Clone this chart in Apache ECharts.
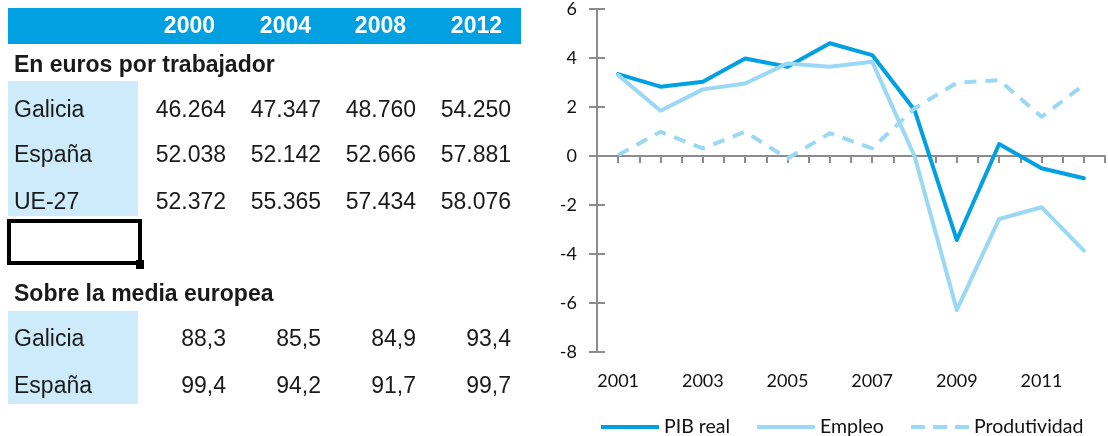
<!DOCTYPE html>
<html><head><meta charset="utf-8">
<script src="https://cdn.jsdelivr.net/npm/echarts@6/dist/echarts.min.js"></script>
<style>html,body{margin:0;padding:0;background:#fff}#c{width:1108px;height:436px}</style>
</head><body><div id="c"></div>
<script>
// ---- Chart data ----
const years = [2001,2002,2003,2004,2005,2006,2007,2008,2009,2010,2011,2012];
const pibReal = [3.34,2.83,3.03,3.98,3.64,4.60,4.12,1.88,-3.43,0.49,-0.50,-0.91];
const empleo = [3.30,1.85,2.72,2.96,3.78,3.64,3.85,0.00,-6.28,-2.57,-2.09,-3.86];
const produtividad = [0.04,0.99,0.31,0.99,-0.10,0.93,0.31,1.94,2.99,3.10,1.60,2.90];
const seriesNames = ['PIB real','Empleo','Produtividad'];
const xTickLabels = ['2001','2003','2005','2007','2009','2011'];

// ---- Table data ----
const tableYears = ['2000','2004','2008','2012'];
const sectionTitles = ['En euros por trabajador','Sobre la media europea'];
const eurosRows = ['Galicia','España','UE-27'];
const eurosValues = [
  ['46.264','47.347','48.760','54.250'],
  ['52.038','52.142','52.666','57.881'],
  ['52.372','55.365','57.434','58.076']
];
const mediaRows = ['Galicia','España'];
const mediaValues = [
  ['88,3','85,5','84,9','93,4'],
  ['99,4','94,2','91,7','99,7']
];

// ---- Layout / style ----
const BLUE = '#00A0E1', LIGHT = '#9AD8F4', CELL = '#CDEBFA', TXT = '#1a1a1a';
const tFont = '"Liberation Sans", Arial, sans-serif';
const cFont = 'Lato, "Open Sans", sans-serif';
const colRight = [226, 321, 416, 511];
const headRight = [215, 311, 406, 502];

const g = [];
g.push({type:'rect', shape:{x:8,y:8,width:513,height:36}, style:{fill:BLUE}, silent:true});
tableYears.forEach((t,i)=>g.push({type:'text', style:{text:t, x:headRight[i], y:27, align:'right', verticalAlign:'middle', font:'bold 23px '+tFont, fill:'#fff'}}));
g.push({type:'text', style:{text:sectionTitles[0], x:14, y:66, verticalAlign:'middle', font:'bold 23px '+tFont, fill:TXT}});
g.push({type:'rect', shape:{x:8,y:81,width:130,height:135}, style:{fill:CELL}});
const rowY1 = [111,156,203];
eurosRows.forEach((r,i)=>{
  g.push({type:'text', style:{text:r, x:14, y:rowY1[i], verticalAlign:'middle', font:'23px '+tFont, fill:TXT}});
  eurosValues[i].forEach((v,j)=>g.push({type:'text', style:{text:v, x:colRight[j], y:rowY1[i], align:'right', verticalAlign:'middle', font:'23px '+tFont, fill:TXT}}));
});
g.push({type:'rect', shape:{x:9,y:221,width:131,height:42}, style:{fill:'none', stroke:'#000', lineWidth:4}});
g.push({type:'rect', shape:{x:136,y:260,width:8,height:9}, style:{fill:'#000'}});
g.push({type:'text', style:{text:sectionTitles[1], x:14, y:295, verticalAlign:'middle', font:'bold 23px '+tFont, fill:TXT}});
g.push({type:'rect', shape:{x:8,y:311,width:130,height:93}, style:{fill:CELL}});
const rowY2 = [340,387];
mediaRows.forEach((r,i)=>{
  g.push({type:'text', style:{text:r, x:14, y:rowY2[i], verticalAlign:'middle', font:'23px '+tFont, fill:TXT}});
  mediaValues[i].forEach((v,j)=>g.push({type:'text', style:{text:v, x:colRight[j], y:rowY2[i], align:'right', verticalAlign:'middle', font:'23px '+tFont, fill:TXT}}));
});

const axisCol = '#8c8c8c';
const lbl = {fontFamily:cFont, fontSize:18, color:'#111'};
const mk = arr => years.map((y,i)=>[y, arr[i]]);
const legendBase = {orient:'horizontal', top:412, itemWidth:58, itemHeight:4, itemGap:0,
  textStyle:{fontFamily:cFont, fontSize:19.5, color:'#111'}, selectedMode:false};
const solidIcon = 'rect';
const dashIcon = 'path://M0,0h14v4h-14zM22,0h14v4h-14zM44,0h14v4h-14z';

const chart = echarts.init(document.getElementById('c'), null, {renderer:'canvas'});
chart.setOption({
  animation:false,
  backgroundColor:'#fff',
  graphic:g,
  grid:{left:597, right:1, top:9, bottom:84, containLabel:false},
  xAxis:[
    {type:'value', min:2000.5, max:2012.5, interval:0.5, position:'bottom',
     axisLine:{show:true, onZero:true, lineStyle:{color:axisCol, width:2}},
     axisTick:{show:true, inside:false, length:7, lineStyle:{color:axisCol, width:2}},
     axisLabel:{show:false}, splitLine:{show:false}},
    {type:'value', min:2000.5, max:2012.5, interval:0.5, position:'bottom',
     axisLine:{show:false, onZero:false}, axisTick:{show:false}, splitLine:{show:false},
     axisLabel:Object.assign({margin:20, showMinLabel:true, showMaxLabel:true,
       formatter:v=>xTickLabels.indexOf(String(v))>=0 ? String(v) : ''}, lbl)}
  ],
  yAxis:[
    {type:'value', min:-8, max:6, interval:2, position:'left',
     axisLine:{show:true, onZero:false, lineStyle:{color:axisCol, width:2}},
     axisTick:{show:true, inside:false, length:8, lineStyle:{color:axisCol, width:2}},
     axisLabel:Object.assign({margin:20}, lbl), splitLine:{show:false}},
    {type:'value', min:-8, max:6, interval:2, position:'left',
     axisLine:{show:false, onZero:false},
     axisTick:{show:true, inside:true, length:8, lineStyle:{color:axisCol, width:2}},
     axisLabel:{show:false}, splitLine:{show:false}}
  ],
  legend:[
    Object.assign({}, legendBase, {left:596, data:[{name:seriesNames[0], icon:solidIcon}]}),
    Object.assign({}, legendBase, {left:752, data:[{name:seriesNames[1], icon:solidIcon}]}),
    Object.assign({}, legendBase, {left:906, data:[{name:seriesNames[2], icon:dashIcon}]})
  ],
  series:[
    {name:seriesNames[0], type:'line', data:mk(pibReal), symbol:'none', color:BLUE,
     lineStyle:{color:BLUE, width:4, cap:'round', join:'round'}},
    {name:seriesNames[1], type:'line', data:mk(empleo), symbol:'none', color:LIGHT,
     lineStyle:{color:LIGHT, width:4, cap:'round', join:'round'}},
    {name:seriesNames[2], type:'line', data:mk(produtividad), symbol:'none', color:LIGHT,
     lineStyle:{color:LIGHT, width:4, type:[12,9], cap:'butt', join:'round'}}
  ]
});
</script></body></html>
